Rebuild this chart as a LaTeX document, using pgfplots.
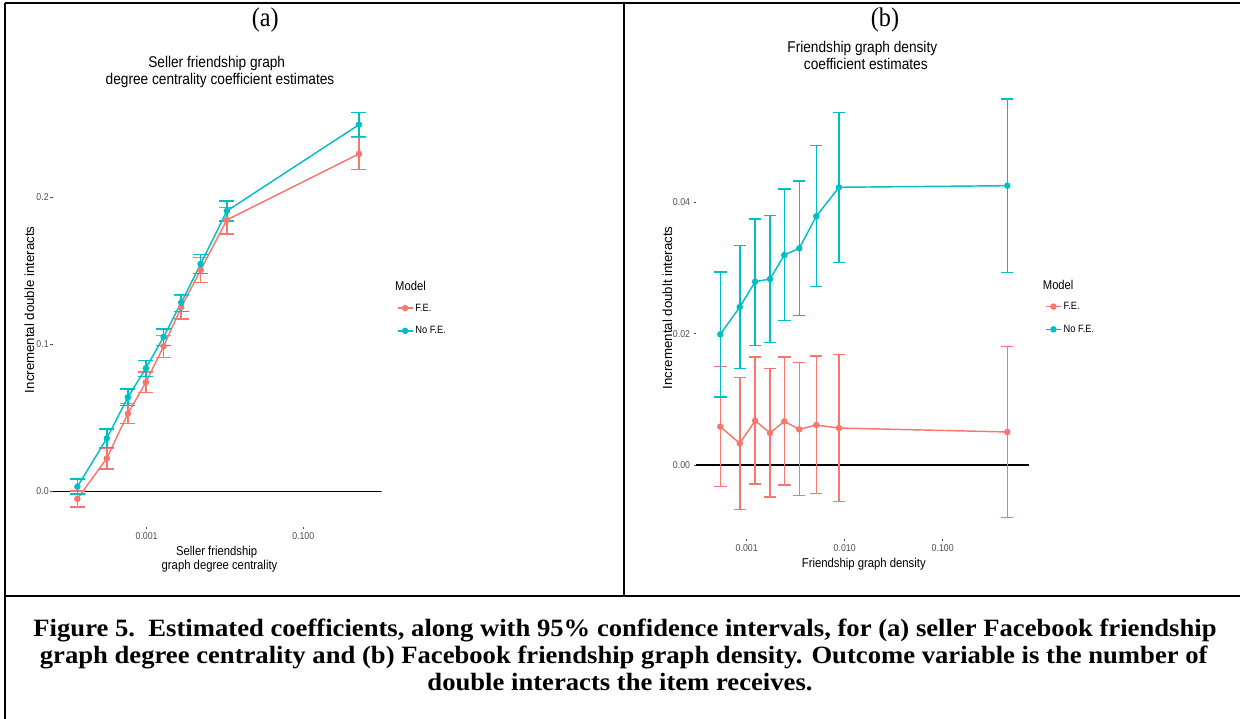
\documentclass[border=0pt]{standalone}
\usepackage{fontspec}
\usepackage{pgfplots}
\pgfplotsset{compat=1.18}
\usepackage{pgfplotstable}
\newfontfamily\sansf[FakeStretch=0.88]{Liberation Sans}
\newfontfamily\sansr{Liberation Sans}
\newfontfamily\serifs[FakeStretch=0.9]{Liberation Serif}
\newfontfamily\serifc[FakeStretch=1.07]{Liberation Serif}
\definecolor{fe}{HTML}{F8766D}
\definecolor{nofe}{HTML}{00BFC4}
\definecolor{tickg}{HTML}{4D4D4D}

\pgfplotstableread{
x y ep em
1.31e-4 -0.0052 0.0055 0.0055
3.11e-4 0.0224 0.0072 0.0072
5.77e-4 0.0528 0.0068 0.0068
9.8e-4 0.0741 0.0069 0.0068
1.65e-3 0.0986 0.0073 0.0075
2.77e-3 0.1252 0.0078 0.0080
4.9e-3 0.1505 0.0085 0.0086
1.06e-2 0.1846 0.0086 0.0096
0.514 0.2295 0.0113 0.0107
}\aFE
\pgfplotstableread{
x y ep em
1.31e-4 0.0031 0.0051 0.0049
3.11e-4 0.0360 0.0064 0.0063
5.77e-4 0.0639 0.0057 0.0056
9.8e-4 0.0837 0.0054 0.0055
1.65e-3 0.1050 0.0054 0.0060
2.77e-3 0.1283 0.0057 0.0061
4.9e-3 0.1546 0.0064 0.0066
1.06e-2 0.1907 0.0066 0.0068
0.514 0.2494 0.0082 0.0082
}\aNoFE
\pgfplotstableread{
x y ep em
5.38e-4 0.00584 0.00919 0.00914
8.5e-4 0.00330 0.01000 0.01010
1.22e-3 0.00675 0.00970 0.00964
1.73e-3 0.00487 0.00980 0.00974
2.42e-3 0.00665 0.00980 0.00970
3.44e-3 0.00543 0.01015 0.01010
5.13e-3 0.00609 0.01051 0.01046
8.75e-3 0.00563 0.01122 0.01121
0.456 0.00503 0.01304 0.01305
}\bFE
\pgfplotstableread{
x y ep em
5.38e-4 0.01990 0.00950 0.00954
8.5e-4 0.02406 0.00934 0.00939
1.22e-3 0.02792 0.00958 0.00969
1.73e-3 0.02833 0.00964 0.00970
2.42e-3 0.03198 0.01002 0.01000
3.44e-3 0.03300 0.01025 0.01026
5.13e-3 0.03788 0.01075 0.01072
8.75e-3 0.04230 0.01142 0.01143
0.456 0.04254 0.01320 0.01325
}\bNoFE

\pgfplotsset{
  feline/.style={color=fe, line width=1.45bp, mark=*, mark size=2.5bp, mark options={solid}},
  nofeline/.style={color=nofe, line width=1.45bp, mark=*, mark size=2.5bp, mark options={solid}},
}

\begin{document}
\begin{tikzpicture}[x=1bp,y=1bp]
\useasboundingbox (0,0) rectangle (1240,719);
% frame
\draw[line width=2bp] (5,716) -- (1240,716);
\draw[line width=2bp] (5,716) -- (5,0);
\draw[line width=2bp] (623.7,716) -- (623.7,123.3);
\draw[line width=2bp] (5,123.3) -- (1240,123.3);

% panel labels
\node[font=\serifs\fontsize{27}{30}\selectfont] at (265.3,699) {(a)};
\node[font=\serifs\fontsize{27}{30}\selectfont] at (885,699) {(b)};

% caption
\begin{scope}[every node/.style={anchor=base, font=\serifc\bfseries\fontsize{25}{27}\selectfont}]
\node at (625,82) {Figure 5.\ \ Estimated coefficients, along with 95\% confidence intervals, for (a) seller Facebook friendship};
\node at (623.7,55) {graph degree centrality and (b) Facebook friendship graph density. Outcome variable is the number of};
\node at (620,28) {double interacts the item receives.};
\end{scope}

% titles
\begin{scope}[every node/.style={anchor=base, font=\sansf\fontsize{15.6}{17}\selectfont}]
\node at (216.7,651.3) {Seller friendship graph};
\node at (220,634) {degree centrality coefficient estimates};
\node at (862.3,666.7) {Friendship graph density};
\node at (865.8,649) {coefficient estimates};
\end{scope}

% axis labels
\begin{scope}[every node/.style={anchor=base, font=\sansf\fontsize{12.9}{14}\selectfont}]
\node at (216.7,163) {Seller friendship};
\node at (219.5,149) {graph degree centrality};
\node at (863.8,151.7) {Friendship graph density};
\end{scope}
\node[rotate=90, font=\sansr\fontsize{13.3}{14}\selectfont] at (29.5,409.2) {Incremental double interacts};
\node[rotate=90, font=\sansr\fontsize{13.3}{14}\selectfont] at (667.5,411.2) {Incremental doublt interacts};

% legend titles
\node[anchor=west, font=\sansf\fontsize{12.8}{14}\selectfont, inner sep=0pt] at (395,433) {Model};
\node[anchor=west, font=\sansf\fontsize{12.8}{14}\selectfont, inner sep=0pt] at (1042.7,434.5) {Model};

% ---------- panel (a)
\begin{axis}[
  scale only axis, xmode=log, log basis x=10,
  axis lines*=left, axis line style={draw=none},
  tick align=outside, major tick length=2.5bp,
  tick style={color=tickg, line width=0.8bp},
  minor xtick={}, scaled y ticks=false,
  tick label style={font=\sansf\fontsize{10}{10}\selectfont, text=tickg},
  yticklabel style={xshift=2bp},
  legend style={draw=none, fill=none, font=\sansf\fontsize{10.6}{11}\selectfont,
    inner sep=0pt, row sep=10bp, cells={anchor=west}, anchor=north west,
    at={(axis description cs:1.0456,0.519)}},
  legend image code/.code={\draw[#1, mark repeat=2, mark phase=2] plot coordinates {(0bp,0bp) (7.5bp,0bp) (15bp,0bp)};},
  at={(52.7bp,192.3bp)}, anchor=south west,
  width=329bp, height=433.8bp,
  xmin=6.34e-5, xmax=1.0023, ymin=-0.0241, ymax=0.271,
  xtick={0.001,0.1}, xticklabels={0.001,0.100},
  ytick={0,0.1,0.2}, yticklabels={0.0,0.1,0.2},
]
\addplot[black, line width=1.3bp, forget plot] coordinates {(6.34e-5,0) (1.0023,0)};
\addplot[feline, forget plot,
  error bars/y dir=both, error bars/y explicit,
  error bars/error bar style={line width=1.5bp, color=fe, solid},
  error bars/error mark options={line width=1.5bp, mark size=7.5bp, color=fe, rotate=90}]
  table[x=x, y=y, y error plus=ep, y error minus=em] {\aFE};
\addplot[nofeline, forget plot,
  error bars/y dir=both, error bars/y explicit,
  error bars/error bar style={line width=1.5bp, color=nofe, solid},
  error bars/error mark options={line width=1.5bp, mark size=7.5bp, color=nofe, rotate=90}]
  table[x=x, y=y, y error plus=ep, y error minus=em] {\aNoFE};
\addlegendimage{feline}
\addlegendentry{F.E.}
\addlegendimage{nofeline}
\addlegendentry{No F.E.}
\end{axis}

% ---------- panel (b)
\begin{axis}[
  scale only axis, xmode=log, log basis x=10,
  axis lines*=left, axis line style={draw=none},
  tick align=outside, major tick length=2.5bp,
  tick style={color=tickg, line width=0.8bp},
  minor xtick={}, scaled y ticks=false,
  tick label style={font=\sansf\fontsize{10}{10}\selectfont, text=tickg},
  legend style={draw=none, fill=none, font=\sansf\fontsize{10.6}{11}\selectfont,
    inner sep=0pt, row sep=10bp, cells={anchor=west}, anchor=north west,
    at={(axis description cs:1.0471,0.518)}},
  legend image code/.code={\draw[#1, mark repeat=2, mark phase=2] plot coordinates {(0bp,0bp) (7.5bp,0bp) (15bp,0bp)};},
  at={(696bp,180.4bp)}, anchor=south west,
  width=333.3bp, height=460.5bp,
  xmin=3.04e-4, xmax=0.7656, ymin=-0.01121, ymax=0.05893,
  xtick={0.001,0.01,0.1}, xticklabels={0.001,0.010,0.100},
  ytick={0,0.02,0.04}, yticklabels={0.00,0.02,0.04},
]
\addplot[black, line width=1.3bp, forget plot] coordinates {(3.04e-4,0) (0.7656,0)};
\addplot[feline, forget plot,
  error bars/y dir=both, error bars/y explicit,
  error bars/error bar style={line width=1.5bp, color=fe, solid},
  error bars/error mark options={line width=1.5bp, mark size=6.2bp, color=fe, rotate=90}]
  table[x=x, y=y, y error plus=ep, y error minus=em] {\bFE};
\addplot[nofeline, forget plot,
  error bars/y dir=both, error bars/y explicit,
  error bars/error bar style={line width=1.5bp, color=nofe, solid},
  error bars/error mark options={line width=1.5bp, mark size=6.2bp, color=nofe, rotate=90}]
  table[x=x, y=y, y error plus=ep, y error minus=em] {\bNoFE};
\addlegendimage{feline}
\addlegendentry{F.E.}
\addlegendimage{nofeline}
\addlegendentry{No F.E.}
\end{axis}
\end{tikzpicture}
\end{document}
